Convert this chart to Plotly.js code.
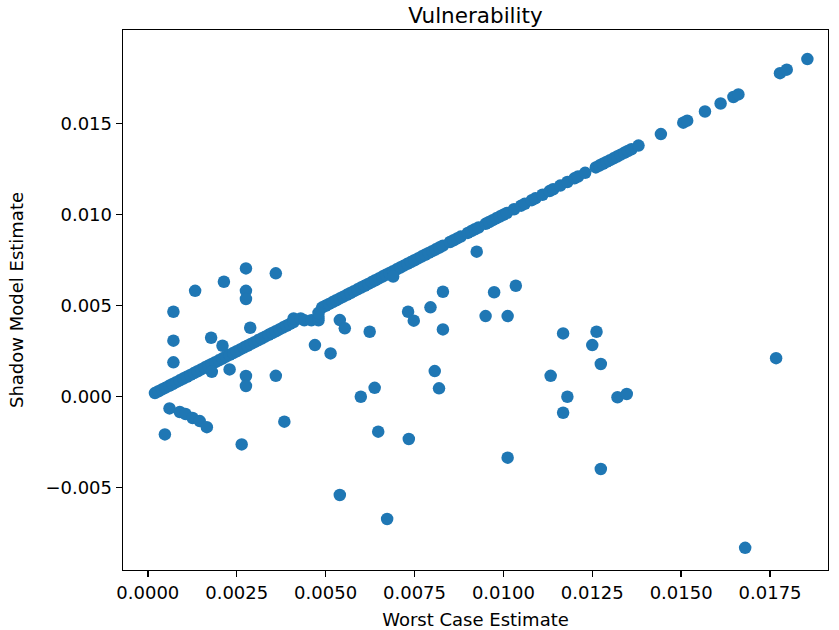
<!DOCTYPE html>
<html>
<head>
<meta charset="utf-8">
<script src="https://cdn.plot.ly/plotly-3.0.1.min.js"></script>
<style>html,body{margin:0;padding:0;background:#fff;}#chart{width:839px;height:630px;}</style>
</head>
<body>
<div id="chart"></div>
<script>
// Points lying on the diagonal (worst case == shadow model)
const diagX = [0.0002,0.0003,0.0004,0.0005,0.0006,0.0007,0.0008,0.0009,0.0010,0.0011,0.0012,0.0013,0.0014,0.0015,0.0016,0.0017,0.0018,0.0019,0.0020,0.0021,0.0022,0.0023,0.0024,0.0025,0.0026,0.0027,0.0028,0.0029,0.0030,0.0031,0.0032,0.0033,0.0034,0.0035,0.0036,0.0037,0.0038,0.0039,0.0040,0.0041,0.0049,0.0050,0.0051,0.0052,0.0053,0.0054,0.0055,0.0056,0.0057,0.0058,0.0059,0.0060,0.0061,0.0062,0.0063,0.0064,0.0065,0.0066,0.0067,0.0068,0.0069,0.0070,0.0071,0.0072,0.0073,0.0074,0.0075,0.0076,0.0077,0.0078,0.0079,0.0080,0.0081,0.0082,0.0083,0.0085,0.0086,0.0087,0.0088,0.0090,0.0091,0.0092,0.0093,0.0095,0.0096,0.0097,0.0098,0.0099,0.0100,0.0101,0.0103,0.0105,0.0106,0.0108,0.0109,0.0111,0.0113,0.0114,0.0116,0.0118,0.0120,0.0121,0.0123,0.0126,0.0127,0.0128,0.0129,0.0130,0.0131,0.0132,0.0133,0.0134,0.0135,0.0136,0.0138,0.01443,0.01506,0.01517,0.01567,0.01611,0.01647,0.01661,0.01778,0.01797,0.01855];
const diagY = [0.0002,0.0003,0.0004,0.0005,0.0006,0.0007,0.0008,0.0009,0.0010,0.0011,0.0012,0.0013,0.0014,0.0015,0.0016,0.0017,0.0018,0.0019,0.0020,0.0021,0.0022,0.0023,0.0024,0.0025,0.0026,0.0027,0.0028,0.0029,0.0030,0.0031,0.0032,0.0033,0.0034,0.0035,0.0036,0.0037,0.0038,0.0039,0.0040,0.0041,0.0049,0.0050,0.0051,0.0052,0.0053,0.0054,0.0055,0.0056,0.0057,0.0058,0.0059,0.0060,0.0061,0.0062,0.0063,0.0064,0.0065,0.0066,0.0067,0.0068,0.0069,0.0070,0.0071,0.0072,0.0073,0.0074,0.0075,0.0076,0.0077,0.0078,0.0079,0.0080,0.0081,0.0082,0.0083,0.0085,0.0086,0.0087,0.0088,0.0090,0.0091,0.0092,0.0093,0.0095,0.0096,0.0097,0.0098,0.0099,0.0100,0.0101,0.0103,0.0105,0.0106,0.0108,0.0109,0.0111,0.0113,0.0114,0.0116,0.0118,0.0120,0.0121,0.0123,0.0126,0.0127,0.0128,0.0129,0.0130,0.0131,0.0132,0.0133,0.0134,0.0135,0.0136,0.0138,0.01443,0.01506,0.01517,0.01567,0.01611,0.01647,0.01661,0.01778,0.01797,0.01855];

// Points off the diagonal
const offX = [0.0041,0.0043,0.0044,0.0046,0.0048,0.0048,0.0048,0.0021,0.0023,0.0069,
  0.00133,0.00214,0.00276,0.0036,0.00276,0.00276,0.00072,0.00288,0.00178,0.00072,0.00072,0.0018,0.00276,0.00276,0.0036,
  0.00061,0.0009,0.00106,0.00126,0.00146,0.00166,0.00048,0.00264,0.00384,
  0.0047,0.00514,0.0054,0.00554,0.00624,0.00638,0.00599,0.00648,0.00734,0.0054,0.00673,
  0.00732,0.00748,0.00795,0.0083,0.0083,0.00807,0.00819,0.00925,
  0.00974,0.01035,0.0095,0.01012,0.01168,0.01262,0.0125,0.01274,0.01133,0.0118,0.01168,0.01321,0.01347,0.01012,0.01274,
  0.01767,0.0168];
const offY = [0.0043,0.0043,0.0042,0.0042,0.0042,0.0044,0.0046,0.0028,0.0015,0.0066,
  0.00582,0.00632,0.00705,0.00678,0.00582,0.00537,0.00467,0.00379,0.00324,0.00308,0.00189,0.00137,0.00114,0.00059,0.00115,
  -0.00064,-0.00084,-0.00095,-0.00117,-0.00134,-0.00167,-0.00207,-0.00262,-0.00137,
  0.00284,0.00238,0.00421,0.00376,0.00357,0.00049,0.0,-0.00192,-0.00232,-0.0054,-0.00672,
  0.00467,0.00418,0.00491,0.00577,0.0037,0.00141,0.00046,0.00797,
  0.00574,0.0061,0.00443,0.00443,0.00348,0.00357,0.00284,0.0018,0.00115,0.0,-0.00088,-0.00003,0.00015,-0.00335,-0.00397,
  0.00212,-0.0083];

const xTicks = [0,0.0025,0.005,0.0075,0.01,0.0125,0.015,0.0175];
const yTicks = [-0.005,0,0.005,0.01,0.015];

const allX = diagX.concat(offX);
const allY = diagY.concat(offY);

const font = 'DejaVu Sans, sans-serif';
const trace = {
  x: allX, y: allY, type: 'scatter', mode: 'markers',
  marker: {color: '#1f77b4', size: 12.5, line: {width: 0}},
  hoverinfo: 'skip'
};
const axisCommon = {
  showline: true, mirror: true, linecolor: '#000', linewidth: 1.4,
  ticks: 'outside', ticklen: 6, tickwidth: 1.4, tickcolor: '#000',
  showgrid: false, zeroline: false,
  tickfont: {family: font, size: 18, color: '#000'}
};
const layout = {
  width: 839, height: 630,
  margin: {l: 123, r: 11, t: 30, b: 60},
  paper_bgcolor: '#fff', plot_bgcolor: '#fff',
  showlegend: false,
  title: {text: 'Vulnerability', font: {family: font, size: 21.5, color: '#000'},
          x: 0.5, xref: 'paper', xanchor: 'center', y: 0.976, yref: 'container', yanchor: 'middle'},
  xaxis: Object.assign({}, axisCommon, {
    range: [-0.000698, 0.01913], tickvals: xTicks, tickformat: '.4f',
    title: {text: 'Worst Case Estimate', font: {family: font, size: 18, color: '#000'}, standoff: 12}
  }),
  yaxis: Object.assign({}, axisCommon, {
    range: [-0.00952, 0.02015], tickvals: yTicks, tickformat: '.3f',
    title: {text: 'Shadow Model Estimate', font: {family: font, size: 18, color: '#000'}, standoff: 17}
  })
};
Plotly.newPlot('chart', [trace], layout, {staticPlot: true, displayModeBar: false});
</script>
</body>
</html>
